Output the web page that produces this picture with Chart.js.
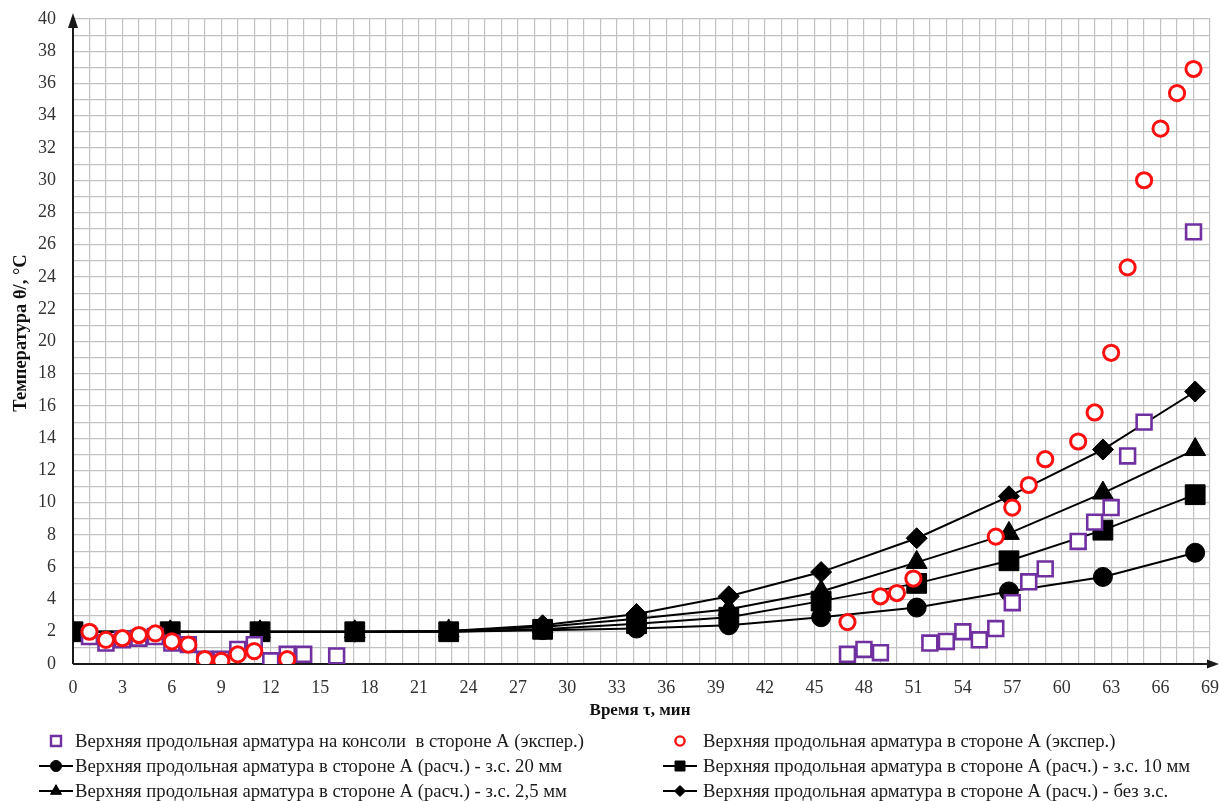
<!DOCTYPE html>
<html lang="ru">
<head>
<meta charset="utf-8">
<title>Температура верхней продольной арматуры</title>
<script src="https://cdn.jsdelivr.net/npm/chart.js@4/dist/chart.umd.min.js"></script>
<style>
  html, body { margin: 0; padding: 0; background: #ffffff; }
  #wrap { width: 1219px; height: 801px; }
</style>
</head>
<body>
<div id="wrap"><canvas id="c" width="1219" height="801"></canvas></div>
<script>
// Верхняя продольная арматура на консоли, сторона А (эксперимент)
const consoleExpX = [1, 2, 3, 4, 5, 6, 7, 8, 9, 10, 11, 12, 13, 14, 16,
  47, 48, 49, 52, 53, 54, 55, 56, 57, 58, 59, 61, 62, 63, 64, 65, 68];
const consoleExpY = [1.7, 1.3, 1.5, 1.6, 1.7, 1.3, 1.2, 0.3, 0.3, 0.9, 1.2, 0.2, 0.6, 0.6, 0.5,
  0.6, 0.9, 0.7, 1.3, 1.4, 2.0, 1.5, 2.2, 3.8, 5.1, 5.9, 7.6, 8.8, 9.7, 12.9, 15.0, 26.8];

// Верхняя продольная арматура, сторона А (эксперимент)
const sideExpX = [1, 2, 3, 4, 5, 6, 7, 8, 9, 10, 11, 13,
  47, 49, 50, 51, 56, 57, 58, 59, 61, 62, 63, 64, 65, 66, 67, 68];
const sideExpY = [2.0, 1.5, 1.6, 1.8, 1.9, 1.4, 1.2, 0.3, 0.2, 0.6, 0.8, 0.3,
  2.6, 4.2, 4.4, 5.3, 7.9, 9.7, 11.1, 12.7, 13.8, 15.6, 19.3, 24.6, 30.0, 33.2, 35.4, 36.9];

// Расчёт: моменты времени, мин
const calcX = [0, 5.9, 11.35, 17.1, 22.8, 28.5, 34.2, 39.8, 45.4, 51.2, 56.8, 62.5, 68.1];
// Расчёт при разных толщинах защитного слоя
const calc20mm = [2.0, 2.0, 2.0, 2.0, 2.0, 2.1, 2.2, 2.4, 2.9, 3.5, 4.5, 5.4, 6.9];
const calc10mm = [2.0, 2.0, 2.0, 2.0, 2.0, 2.15, 2.5, 2.9, 3.9, 5.0, 6.4, 8.3, 10.5];
const calc25mm = [2.0, 2.0, 2.0, 2.0, 2.05, 2.3, 2.8, 3.4, 4.5, 6.3, 8.1, 10.6, 13.3];
const calcNone = [2.0, 2.0, 2.0, 2.0, 2.05, 2.4, 3.1, 4.2, 5.7, 7.8, 10.4, 13.3, 16.9];

// Подписи
const seriesNames = [
  'Верхняя продольная арматура на консоли  в стороне А (экспер.)',
  'Верхняя продольная арматура в стороне А (экспер.)',
  'Верхняя продольная арматура в стороне А (расч.) - з.с. 20 мм',
  'Верхняя продольная арматура в стороне А (расч.) - з.с. 10 мм',
  'Верхняя продольная арматура в стороне А (расч.) - з.с. 2,5 мм',
  'Верхняя продольная арматура в стороне А (расч.) - без з.с.'
];
const xTitle = 'Время τ, мин';
const yTitle = 'Температура θ/, °C';
const xMax = 69, xLabelStep = 3;
const yMax = 40, yLabelStep = 2;

const pts = (xs, ys) => xs.map((x, i) => ({ x: x, y: ys[i] }));

const PURPLE = '#7030a0';
const RED = '#ff1010';
const SERIF = "'Liberation Serif', 'Times New Roman', serif";

const lineSet = (label, ys, style, radius) => ({
  label: label,
  data: pts(calcX, ys),
  showLine: true,
  borderColor: '#000000',
  borderWidth: 2,
  pointStyle: style,
  pointRadius: radius,
  pointBackgroundColor: '#000000',
  pointBorderColor: '#000000',
  pointBorderWidth: 1,
  order: 3
});

const datasets = [
  {
    label: seriesNames[0],
    data: pts(consoleExpX, consoleExpY),
    showLine: false,
    pointStyle: 'rect',
    pointRadius: 10.5,
    pointBackgroundColor: '#ffffff',
    pointBorderColor: PURPLE,
    pointBorderWidth: 2.6,
    order: 2
  },
  {
    label: seriesNames[1],
    data: pts(sideExpX, sideExpY),
    showLine: false,
    pointStyle: 'circle',
    pointRadius: 7.6,
    pointBackgroundColor: '#ffffff',
    pointBorderColor: RED,
    pointBorderWidth: 3,
    order: 1
  },
  lineSet(seriesNames[2], calc20mm, 'circle', 9.5),
  lineSet(seriesNames[3], calc10mm, 'rect', 14),
  lineSet(seriesNames[4], calc25mm, 'triangle', 12),
  lineSet(seriesNames[5], calcNone, 'rectRot', 10.5)
];

// Small marker painter for the legend
function marker(ctx, style, x, y, r, fill, stroke, lw) {
  ctx.save();
  ctx.beginPath();
  if (style === 'circle') {
    ctx.arc(x, y, r, 0, Math.PI * 2);
  } else if (style === 'rect') {
    ctx.rect(x - r, y - r, 2 * r, 2 * r);
  } else if (style === 'triangle') {
    ctx.moveTo(x, y - r * 1.15);
    ctx.lineTo(x + r, y + r * 0.6);
    ctx.lineTo(x - r, y + r * 0.6);
    ctx.closePath();
  } else if (style === 'rectRot') {
    ctx.moveTo(x, y - r);
    ctx.lineTo(x + r, y);
    ctx.lineTo(x, y + r);
    ctx.lineTo(x - r, y);
    ctx.closePath();
  }
  ctx.fillStyle = fill;
  ctx.fill();
  ctx.lineWidth = lw;
  ctx.strokeStyle = stroke;
  ctx.stroke();
  ctx.restore();
}

const decor = {
  id: 'decor',
  beforeDatasetsDraw(chart) {
    const { ctx, chartArea: a } = chart;
    ctx.save();
    ctx.strokeStyle = '#1a1a1a';
    ctx.fillStyle = '#1a1a1a';
    ctx.lineWidth = 2;
    // vertical axis with arrow
    ctx.beginPath();
    ctx.moveTo(a.left, a.bottom);
    ctx.lineTo(a.left, a.top - 2);
    ctx.stroke();
    ctx.beginPath();
    ctx.moveTo(a.left, a.top - 6);
    ctx.lineTo(a.left + 5, a.top + 9);
    ctx.lineTo(a.left - 5, a.top + 9);
    ctx.closePath();
    ctx.fill();
    // horizontal axis with arrow
    ctx.beginPath();
    ctx.moveTo(a.left, a.bottom);
    ctx.lineTo(a.right + 3, a.bottom);
    ctx.stroke();
    ctx.beginPath();
    ctx.moveTo(a.right + 9, a.bottom);
    ctx.lineTo(a.right - 3, a.bottom - 4.5);
    ctx.lineTo(a.right - 3, a.bottom + 4.5);
    ctx.closePath();
    ctx.fill();
    ctx.restore();
  },
  afterDraw(chart) {
    const { ctx } = chart;
    ctx.save();
    // axis titles
    ctx.fillStyle = '#111111';
    ctx.textAlign = 'center';
    ctx.textBaseline = 'middle';
    ctx.font = 'bold 17px ' + SERIF;
    ctx.fillText(xTitle, 640, 711);
    ctx.font = 'bold 18.5px ' + SERIF;
    ctx.translate(21, 333);
    ctx.rotate(-Math.PI / 2);
    ctx.fillText(yTitle, 0, 0);
    ctx.setTransform(1, 0, 0, 1, 0, 0);

    // legend: two columns, three rows
    const rows = [741, 766, 791];
    const cols = [{ mk: 56, tx: 75 }, { mk: 680, tx: 703 }];
    ctx.font = '18.7px ' + SERIF;
    ctx.textAlign = 'left';
    chart.data.datasets.forEach((ds, i) => {
      const row = rows[Math.floor(i / 2)];
      const col = cols[i % 2];
      if (ds.showLine) {
        ctx.save();
        ctx.strokeStyle = ds.borderColor;
        ctx.lineWidth = 2.2;
        ctx.beginPath();
        ctx.moveTo(col.mk - 17, row);
        ctx.lineTo(col.mk + 17, row);
        ctx.stroke();
        ctx.restore();
        const r = ds.pointStyle === 'rect' ? 5 : 5.5;
        marker(ctx, ds.pointStyle, col.mk, row, r, '#000', '#000', 1);
      } else {
        const r = ds.pointStyle === 'rect' ? 5 : 4.6;
        marker(ctx, ds.pointStyle, col.mk, row, r, '#ffffff', ds.pointBorderColor, 2.4);
      }
      ctx.fillStyle = '#1a1a1a';
      ctx.fillText(ds.label, col.tx, row + 1);
    });
    ctx.restore();
  }
};

const tickFont = { family: SERIF, size: 18 };
const gridColor = '#c2c2c2';

// The plot box is fixed; label overhang must not shrink it.
const noScalePadding = (s) => {
  s.paddingTop = 0; s.paddingBottom = 0; s.paddingLeft = 0; s.paddingRight = 0;
};

new Chart(document.getElementById('c'), {
  type: 'scatter',
  data: { datasets: datasets },
  options: {
    responsive: false,
    animation: false,
    events: [],
    layout: { autoPadding: false, padding: { top: 19, right: 9, left: 0, bottom: 0 } },
    plugins: {
      legend: { display: false },
      tooltip: { enabled: false }
    },
    scales: {
      x: {
        type: 'linear',
        min: 0,
        max: xMax,
        afterFit: (s) => { s.height = 137; noScalePadding(s); },
        border: { display: false },
        grid: { color: gridColor, lineWidth: 1.2, drawTicks: false },
        ticks: {
          stepSize: 1,
          autoSkip: false,
          maxRotation: 0,
          padding: 13,
          color: '#333333',
          font: tickFont,
          callback: (v) => (v % xLabelStep === 0 ? String(v) : '')
        }
      },
      y: {
        type: 'linear',
        min: 0,
        max: yMax,
        afterFit: (s) => { s.width = 73; noScalePadding(s); },
        border: { display: false },
        grid: { color: gridColor, lineWidth: 1.2, drawTicks: false },
        ticks: {
          stepSize: 1,
          autoSkip: false,
          padding: 17,
          color: '#333333',
          font: tickFont,
          callback: (v) => (v % yLabelStep === 0 ? String(v) : '')
        }
      }
    }
  },
  plugins: [decor]
});
</script>
</body>
</html>
